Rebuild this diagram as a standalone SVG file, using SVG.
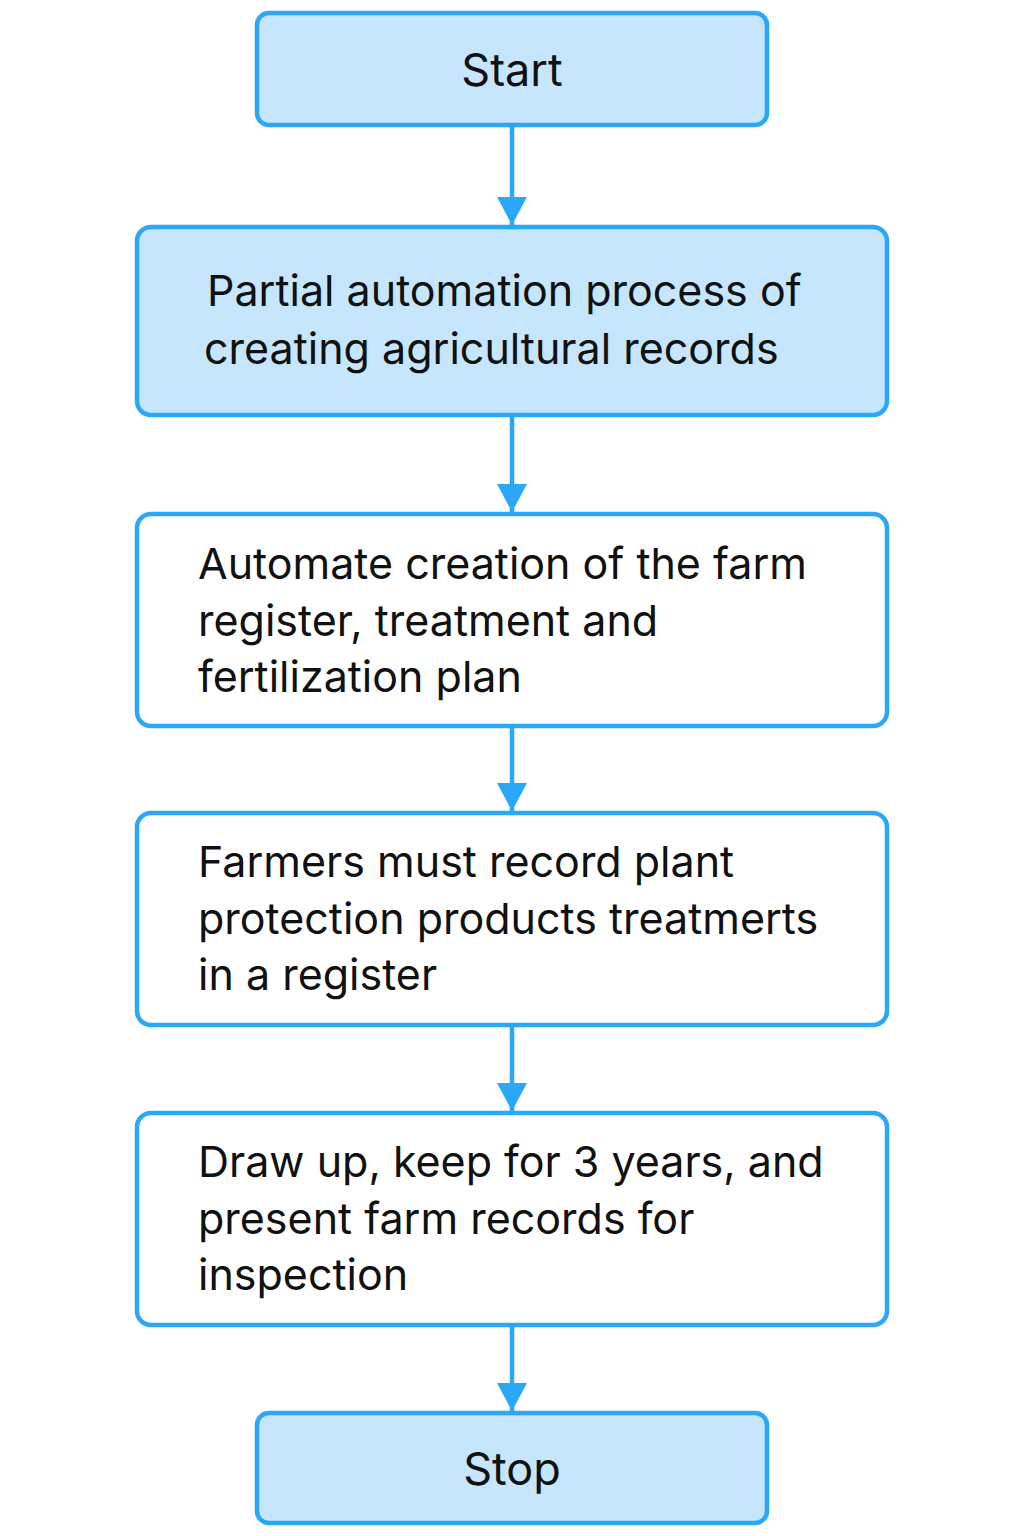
<svg xmlns="http://www.w3.org/2000/svg" width="1024" height="1536" viewBox="0 0 1024 1536">
<defs>
<style>
.box{fill:#fff;stroke:#2AA7F7;stroke-width:4.5}
.term{fill:#C5E6FC;stroke:#2AA7F7;stroke-width:4.5}
.t{font-family:Inter,"Noto Sans",sans-serif;font-size:43px;fill:#111}
.tt{font-family:Inter,"Noto Sans",sans-serif;font-size:45px;fill:#111}
.c{stroke:#2AA7F7;stroke-width:4.5;fill:none}
</style>
<marker id="ah" markerUnits="userSpaceOnUse" markerWidth="30" markerHeight="30" refX="28" refY="15" orient="auto">
<path d="M0,0 L28,15 L0,30 Z" fill="#2AA7F7"/>
</marker>
</defs>
<rect width="1024" height="1536" fill="#fff"/>
<g id="connectors">
<line class="c" x1="512" y1="126" x2="512" y2="225" marker-end="url(#ah)"/>
<line class="c" x1="512" y1="416" x2="512" y2="512" marker-end="url(#ah)"/>
<line class="c" x1="512" y1="727" x2="512" y2="811" marker-end="url(#ah)"/>
<line class="c" x1="512" y1="1026" x2="512" y2="1111" marker-end="url(#ah)"/>
<line class="c" x1="512" y1="1326" x2="512" y2="1411" marker-end="url(#ah)"/>
</g>
<g id="start">
<rect class="term" x="257" y="13" width="510" height="112" rx="12"/>
<text class="tt" x="512" y="86" text-anchor="middle">Start</text>
</g>
<g id="n1">
<rect class="term" x="137" y="227" width="750" height="188" rx="14"/>
<text class="t" x="207" y="306">Partial automation process of</text>
<text class="t" x="204" y="364">creating agricultural records</text>
</g>
<g id="n2">
<rect class="box" x="137" y="514" width="750" height="212" rx="14"/>
<text class="t" x="198" y="579">Automate creation of the farm</text>
<text class="t" x="198" y="636">register, treatment and</text>
<text class="t" x="198" y="692">fertilization plan</text>
</g>
<g id="n3">
<rect class="box" x="137" y="813" width="750" height="212" rx="14"/>
<text class="t" x="198" y="877">Farmers must record plant</text>
<text class="t" x="198" y="934">protection products treatmerts</text>
<text class="t" x="198" y="990">in a register</text>
</g>
<g id="n4">
<rect class="box" x="137" y="1113" width="750" height="212" rx="14"/>
<text class="t" x="198" y="1177">Draw up, keep for 3 years, and</text>
<text class="t" x="198" y="1234">present farm records for</text>
<text class="t" x="198" y="1290">inspection</text>
</g>
<g id="stop">
<rect class="term" x="257" y="1413" width="510" height="110" rx="12"/>
<text class="tt" x="512" y="1485" text-anchor="middle">Stop</text>
</g>
</svg>
